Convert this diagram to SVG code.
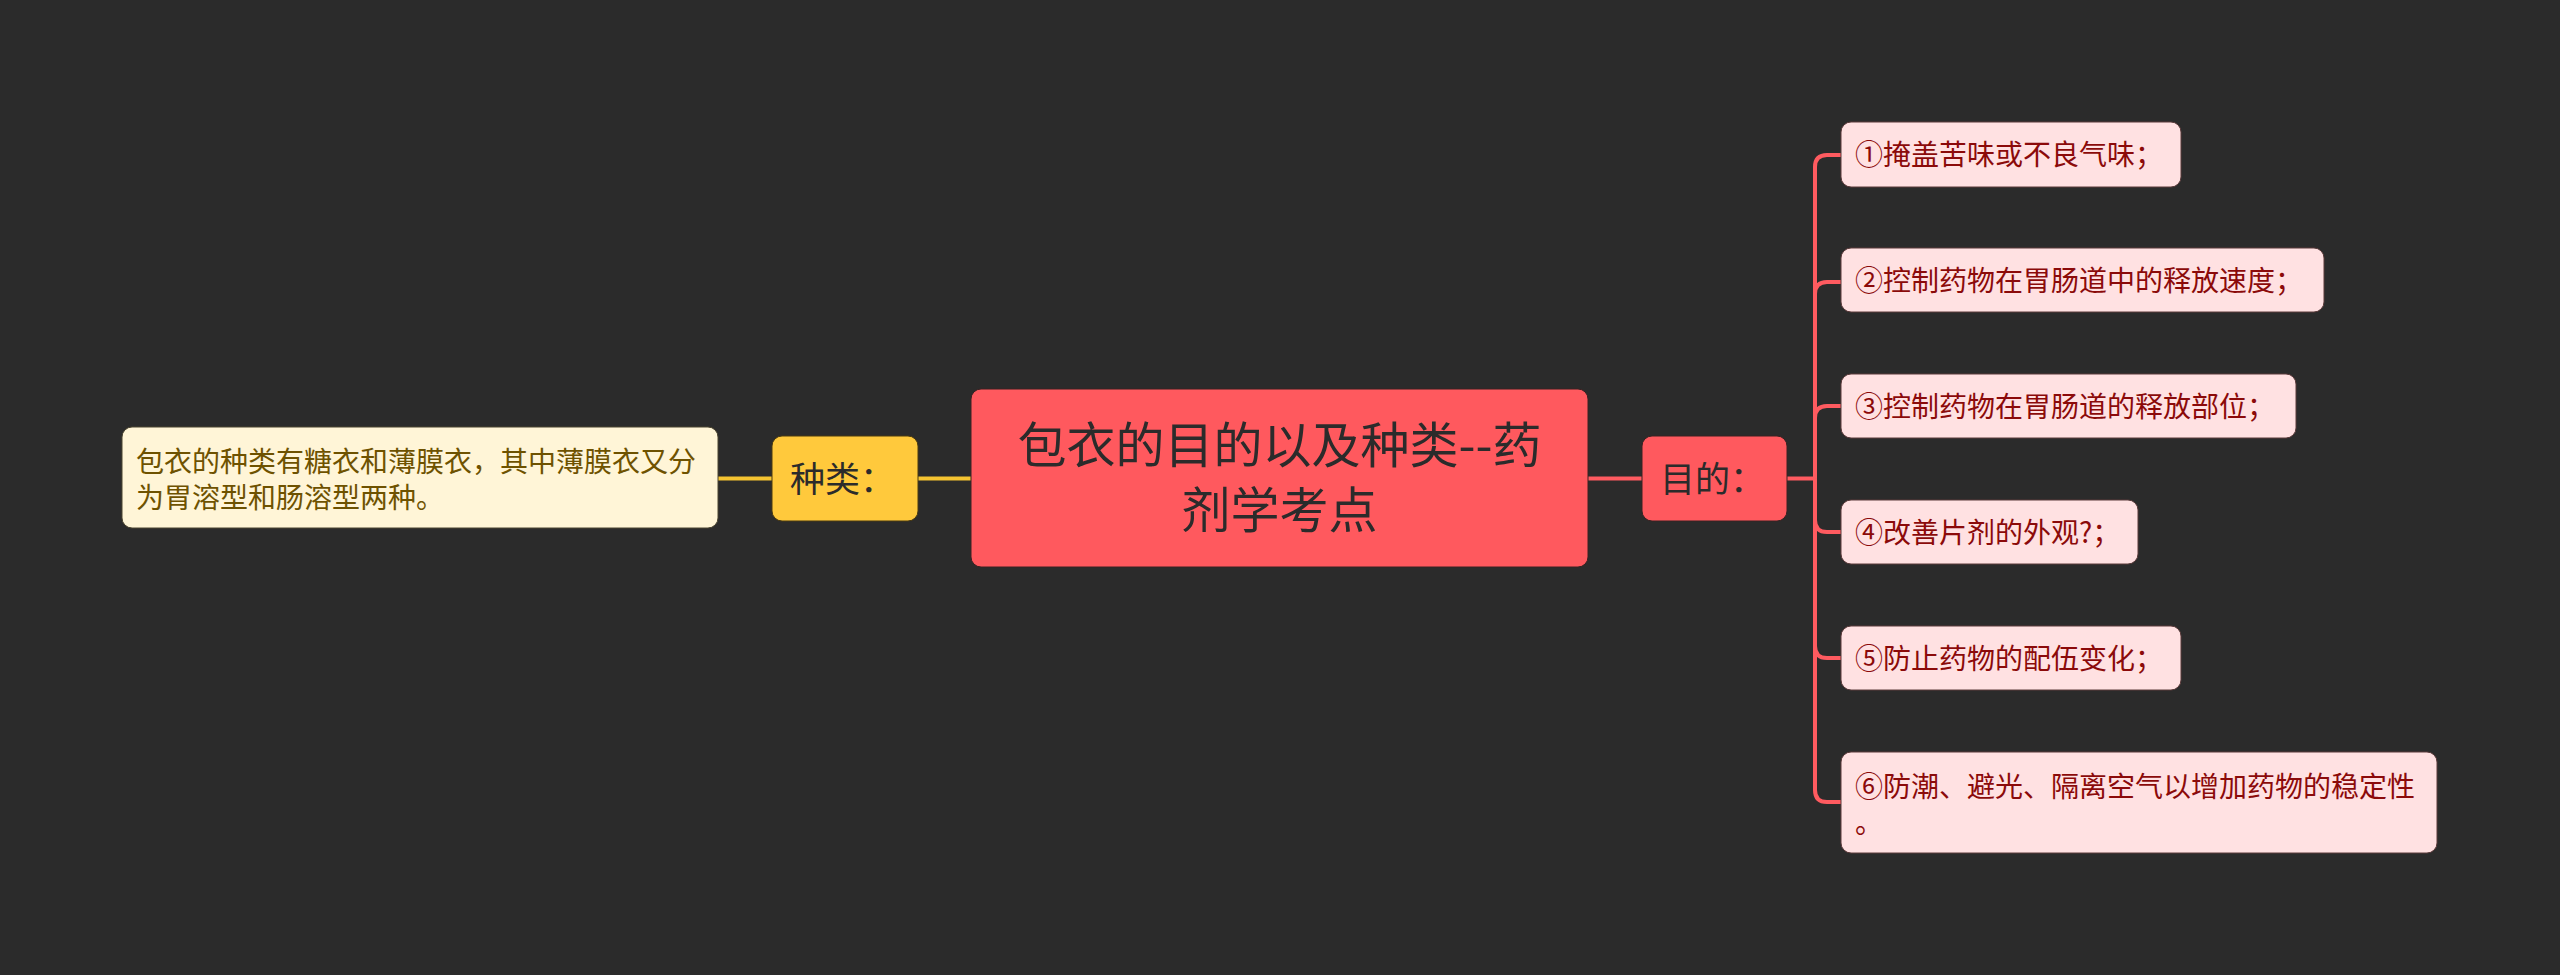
<svg xmlns="http://www.w3.org/2000/svg" width="2560" height="975" viewBox="0 0 2560 975">
<style>
.t{font-family:"Noto Sans CJK SC","Noto Sans",sans-serif;}
.root{fill:#ff595e;stroke:#3a2222;stroke-width:1}
.rootT{font-size:49px;fill:#2b2b2b;text-anchor:middle}
.sub{fill:#ff595e;stroke:#3a2222;stroke-width:1}
.subT{font-size:35px;fill:#2b2b2b}
.ysub{fill:#ffc93c;stroke:#4a3a10;stroke-width:1}
.leafR{fill:#ffe1e2;stroke:#5a3a3a;stroke-width:1}
.leafRT{font-size:28px;fill:#8b0a0a}
.leafY{fill:#fff5d7;stroke:#4a4430;stroke-width:1}
.leafYT{font-size:28px;fill:#6e5200}
.cr{fill:none;stroke:#ff5b60;stroke-width:4}
.cy{fill:none;stroke:#f5c431;stroke-width:4}
</style>
<rect width="2560" height="975" fill="#2b2b2b"/>
<g id="connectors">
<path class="cy" d="M718,478.5 H772"/>
<path class="cy" d="M918,478.5 H971"/>
<path class="cr" d="M1588,478.5 H1642"/>
<path class="cr" d="M1787,478.5 H1815"/>
<path class="cr" d="M1815,478.5 V167 Q1815,155 1827,155 H1841"/>
<path class="cr" d="M1815,478.5 V294 Q1815,282 1827,282 H1841"/>
<path class="cr" d="M1815,478.5 V418 Q1815,406 1827,406 H1841"/>
<path class="cr" d="M1815,478.5 V520 Q1815,532 1827,532 H1841"/>
<path class="cr" d="M1815,478.5 V646 Q1815,658 1827,658 H1841"/>
<path class="cr" d="M1815,478.5 V790 Q1815,802 1827,802 H1841"/>
</g>
<g id="root">
<rect class="root" x="971" y="389" width="617" height="178" rx="10"/>
<text class="t rootT" x="1279.5" y="463">包衣的目的以及种类--药</text>
<text class="t rootT" x="1279.5" y="528">剂学考点</text>
</g>
<g id="zhonglei">
<rect class="ysub" x="772" y="436" width="146" height="85" rx="10"/>
<text class="t subT" x="790" y="492">种类：</text>
</g>
<g id="zhonglei-leaf">
<rect class="leafY" x="122" y="427" width="596" height="101" rx="10"/>
<text class="t leafYT" x="136" y="472">包衣的种类有糖衣和薄膜衣，其中薄膜衣又分</text>
<text class="t leafYT" x="136" y="508">为胃溶型和肠溶型两种。</text>
</g>
<g id="mudi">
<rect class="sub" x="1642" y="436" width="145" height="85" rx="10"/>
<text class="t subT" x="1660" y="492">目的：</text>
</g>
<g id="leaf1">
<rect class="leafR" x="1841" y="122" width="340" height="65" rx="10"/>
<text class="t leafRT" x="1855" y="165">①掩盖苦味或不良气味；</text>
</g>
<g id="leaf2">
<rect class="leafR" x="1841" y="248" width="483" height="64" rx="10"/>
<text class="t leafRT" x="1855" y="291">②控制药物在胃肠道中的释放速度；</text>
</g>
<g id="leaf3">
<rect class="leafR" x="1841" y="374" width="455" height="64" rx="10"/>
<text class="t leafRT" x="1855" y="417">③控制药物在胃肠道的释放部位；</text>
</g>
<g id="leaf4">
<rect class="leafR" x="1841" y="500" width="297" height="64" rx="10"/>
<text class="t leafRT" x="1855" y="543">④改善片剂的外观?；</text>
</g>
<g id="leaf5">
<rect class="leafR" x="1841" y="626" width="340" height="64" rx="10"/>
<text class="t leafRT" x="1855" y="669">⑤防止药物的配伍变化；</text>
</g>
<g id="leaf6">
<rect class="leafR" x="1841" y="752" width="596" height="101" rx="10"/>
<text class="t leafRT" x="1855" y="797">⑥防潮、避光、隔离空气以增加药物的稳定性</text>
<text class="t leafRT" x="1855" y="833">。</text>
</g>
</svg>
